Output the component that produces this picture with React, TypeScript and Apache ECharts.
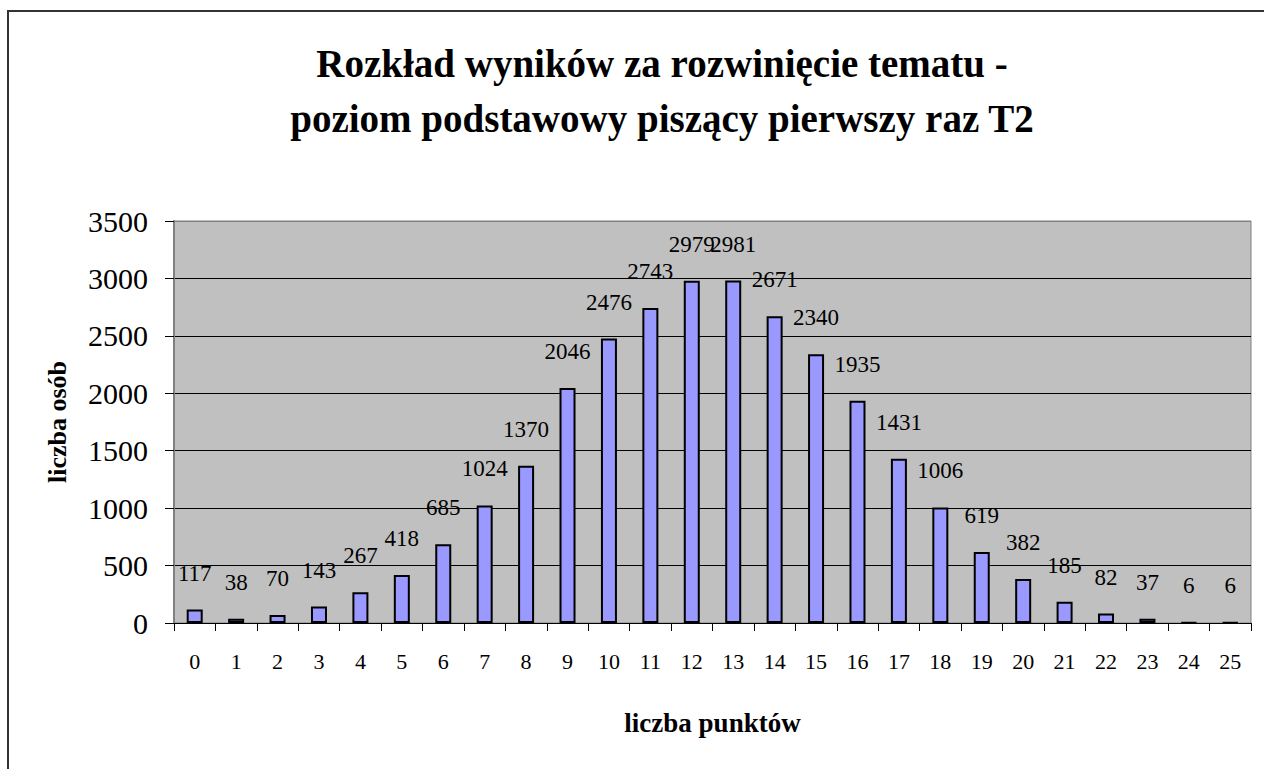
import React, { useEffect, useRef } from "react";
import * as echarts from "echarts";

const categories = ["0","1","2","3","4","5","6","7","8","9","10","11","12","13","14","15","16","17","18","19","20","21","22","23","24","25"];
const values = [117, 38, 70, 143, 267, 418, 685, 1024, 1370, 2046, 2476, 2743, 2979, 2981, 2671, 2340, 1935, 1431, 1006, 619, 382, 185, 82, 37, 6, 6];
const titleLines = ["Rozkład wyników za rozwinięcie tematu -", "poziom podstawowy piszący pierwszy raz T2"];
const xName = "liczba punktów";
const yName = "liczba osób";

const FONT = "Liberation Serif";

export default function App() {
  const ref = useRef<HTMLDivElement>(null);
  useEffect(() => {
    if (!ref.current) return;
    const chart = echarts.init(ref.current, null, { renderer: "svg" });
    chart.setOption({
      animation: false,
      backgroundColor: "#ffffff",
      title: {
        text: titleLines.join("\n"),
        left: 657,
        top: 31,
        textAlign: "center",
        textStyle: {
          fontFamily: FONT,
          fontWeight: "bold",
          fontSize: 39,
          lineHeight: 55,
          color: "#000",
        },
      },
      graphic: [
        {
          type: "rect",
          shape: { x: 8, y: 11, width: 1400, height: 900 },
          style: { fill: "none", stroke: "#333", lineWidth: 2 },
          silent: true,
          z: 100,
        },
      ],
      grid: {
        left: 174,
        top: 221,
        right: 13,
        bottom: 146,
        show: true,
        backgroundColor: "#C0C0C0",
        borderColor: "#808080",
        borderWidth: 1,
      },
      xAxis: {
        type: "category",
        data: categories,
        name: xName,
        nameLocation: "middle",
        nameGap: 86,
        nameTextStyle: { fontFamily: FONT, fontWeight: "bold", fontSize: 27, color: "#000" },
        axisLine: { show: true, lineStyle: { color: "#000", width: 1 } },
        axisTick: { show: true, length: 8, lineStyle: { color: "#000" } },
        axisLabel: { margin: 27, fontFamily: FONT, fontSize: 22, color: "#000", interval: 0 },
        splitLine: { show: false },
      },
      yAxis: {
        type: "value",
        min: 0,
        max: 3500,
        interval: 500,
        name: yName,
        nameLocation: "middle",
        nameRotate: 90,
        nameGap: 104,
        nameTextStyle: { fontFamily: FONT, fontWeight: "bold", fontSize: 26, color: "#000" },
        axisLine: { show: true, lineStyle: { color: "#808080", width: 2 } },
        axisTick: { show: true, length: 9, lineStyle: { color: "#000" } },
        axisLabel: {
          margin: 26,
          fontFamily: FONT,
          fontSize: 30,
          color: "#000",
          formatter: (v: number) => String(v),
        },
        splitLine: {
          show: true,
          lineStyle: {
            color: ["#000", "#000", "#000", "#000", "#000", "#000", "#000", "#808080"],
            width: 1,
          },
        },
      },
      series: [
        {
          type: "bar",
          data: values,
          barWidth: 16,
          itemStyle: { color: "#9999FF", borderColor: "#000", borderWidth: 2 },
          label: {
            show: true,
            position: "top",
            distance: 25,
            fontFamily: FONT,
            fontSize: 23,
            color: "#000",
          },
        },
      ],
    });
    return () => chart.dispose();
  }, []);
  return (
    <div
      ref={ref}
      style={{ position: "absolute", left: 0, top: 0, width: 1264, height: 769 }}
    />
  );
}
